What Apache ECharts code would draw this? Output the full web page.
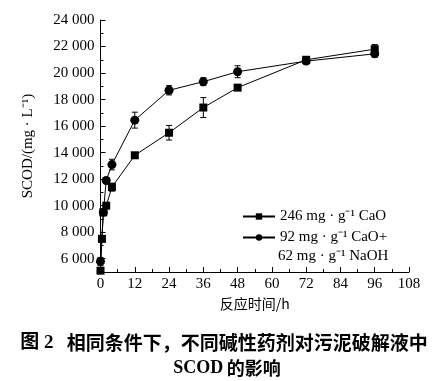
<!DOCTYPE html>
<html><head><meta charset="utf-8">
<script src="https://cdn.jsdelivr.net/npm/echarts@6/dist/echarts.min.js"></script>
<style>html,body{margin:0;padding:0;background:#fff}#c{width:448px;height:381px}</style>
</head><body><div id="c"></div>
<script>
const xTicks = [0, 12, 24, 36, 48, 60, 72, 84, 96, 108];
const yTicks = [6000, 8000, 10000, 12000, 14000, 16000, 18000, 20000, 22000, 24000];
const caoTime = [0, 0.5, 1, 2, 4, 12, 24, 36, 48, 72, 96];
const caoValues = [5100, 7500, 9500, 10000, 11400, 13800, 15500, 17400, 18900, 21000, 21800];
const caoErrors = [150, 150, 200, 200, 300, 150, 550, 750, 200, 250, 350];
const mixTime = [0, 1, 2, 4, 12, 24, 36, 48, 72, 96];
const mixValues = [5800, 9500, 11900, 13100, 16450, 18700, 19350, 20100, 20900, 21450];
const mixErrors = [300, 200, 200, 400, 600, 350, 300, 450, 200, 250];
const seriesNames = ['246 mg · g⁻¹ CaO', '92 mg · g⁻¹ CaO+'];
const legendExtra = '62 mg · g⁻¹ NaOH';
const yName = 'SCOD/(mg · L⁻¹)';
const xName = '反应时间/h';

const SERIF = "'Liberation Serif','Times New Roman',serif";
const fmt = v => String(v).replace(/\B(?=(\d{3})+(?!\d))/g, ' ');
const Y_MIN = 5000, Y_MAX = yTicks[yTicks.length - 1];
const TOP = 20, BOTTOM = 109, H = 381 - TOP - BOTTOM;
const bottom2 = BOTTOM + H * (yTicks[0] - Y_MIN) / (Y_MAX - Y_MIN);

function errBar(params, api) {
  const x = api.value(0), y = api.value(1), e = api.value(2);
  const t = api.coord([x, y + e]), b = api.coord([x, y - e]);
  const w = 3;
  const st = {stroke: '#000', lineWidth: 1};
  return {type: 'group', children: [
    {type: 'line', shape: {x1: t[0], y1: t[1], x2: b[0], y2: b[1]}, style: st},
    {type: 'line', shape: {x1: t[0] - w, y1: t[1], x2: t[0] + w, y2: t[1]}, style: st},
    {type: 'line', shape: {x1: b[0] - w, y1: b[1], x2: b[0] + w, y2: b[1]}, style: st}
  ]};
}

const chart = echarts.init(document.getElementById('c'));
chart.setOption({
  animation: false,
  backgroundColor: '#fff',
  grid: [
    {left: 100.5, right: 39, top: TOP, bottom: BOTTOM},
    {left: 100.5, right: 39, top: TOP, bottom: bottom2}
  ],
  xAxis: [{
    gridIndex: 0,
    type: 'value', min: xTicks[0], max: xTicks[xTicks.length - 1], interval: 12,
    name: xName, nameLocation: 'middle', nameGap: 19,
    nameTextStyle: {fontFamily: "'Noto Sans CJK SC'", fontSize: 14, color: '#000'},
    axisLine: {lineStyle: {color: '#000', width: 1}},
    axisTick: {inside: true, length: 5, lineStyle: {color: '#000'}},
    minorTick: {show: true, splitNumber: 2, length: 3, lineStyle: {color: '#000'}},
    axisLabel: {color: '#000', fontFamily: SERIF, fontSize: 15, margin: 5},
    splitLine: {show: false}
  }, {
    gridIndex: 1, type: 'value', min: 0, max: 108, show: false
  }],
  yAxis: [{
    gridIndex: 0,
    type: 'value', min: Y_MIN, max: Y_MAX, interval: 1000,
    name: yName, nameLocation: 'middle', nameGap: 65, nameRotate: 90,
    nameTextStyle: {fontFamily: SERIF, fontSize: 15, color: '#000'},
    axisLine: {lineStyle: {color: '#000', width: 1}},
    axisTick: {inside: true, length: 3, lineStyle: {color: '#000'}},
    axisLabel: {show: false},
    splitLine: {show: false}
  }, {
    gridIndex: 1,
    type: 'value', min: yTicks[0], max: Y_MAX, interval: 2000,
    axisLine: {show: false},
    axisTick: {inside: true, length: 5, lineStyle: {color: '#000'}},
    axisLabel: {color: '#000', fontFamily: SERIF, fontSize: 15, margin: 6, formatter: v => fmt(v)},
    splitLine: {show: false}
  }],
  legend: {
    orient: 'vertical', left: 242, top: 209, itemGap: 6, padding: 0,
    itemWidth: 32, itemHeight: 8,
    textStyle: {fontFamily: SERIF, fontSize: 15, color: '#000'},
    data: seriesNames
  },
  series: [
    {type: 'custom', renderItem: errBar, z: 1, silent: true,
     data: caoTime.map((t, i) => [t, caoValues[i], caoErrors[i]])},
    {type: 'custom', renderItem: errBar, z: 1, silent: true,
     data: mixTime.map((t, i) => [t, mixValues[i], mixErrors[i]])},
    {type: 'line', name: seriesNames[0], z: 3, symbol: 'rect', symbolSize: 8,
     lineStyle: {color: '#000', width: 1}, itemStyle: {color: '#000'},
     data: caoTime.map((t, i) => [t, caoValues[i]])},
    {type: 'line', name: seriesNames[1], z: 3, symbol: 'circle', symbolSize: 9,
     lineStyle: {color: '#000', width: 1}, itemStyle: {color: '#000'},
     data: mixTime.map((t, i) => [t, mixValues[i]])}
  ],
  graphic: [
    {type: 'text', x: 278, y: 256,
     style: {text: legendExtra, font: "15px " + SERIF, fill: '#000', verticalAlign: 'middle'}},
    {type: 'text', x: 224, y: 343,
     style: {text: '{b|图 2}    {c|相同条件下，不同碱性药剂对污泥破解液中}', align: 'center', verticalAlign: 'middle',
       rich: {
         b: {fontFamily: "'Liberation Serif','Noto Sans CJK SC'", fontWeight: 'bold', fontSize: 19, fill: '#000'},
         c: {fontFamily: "'Noto Sans CJK SC'", fontWeight: 'bold', fontSize: 19, fill: '#000'}
       }}},
    {type: 'text', x: 227, y: 368,
     style: {text: '{b|SCOD} {c|的影响}', align: 'center', verticalAlign: 'middle',
       rich: {
         b: {fontFamily: SERIF, fontWeight: 'bold', fontSize: 18, fill: '#000'},
         c: {fontFamily: "'Noto Sans CJK SC'", fontWeight: 'bold', fontSize: 18, fill: '#000'}
       }}}
  ]
});
</script></body></html>
